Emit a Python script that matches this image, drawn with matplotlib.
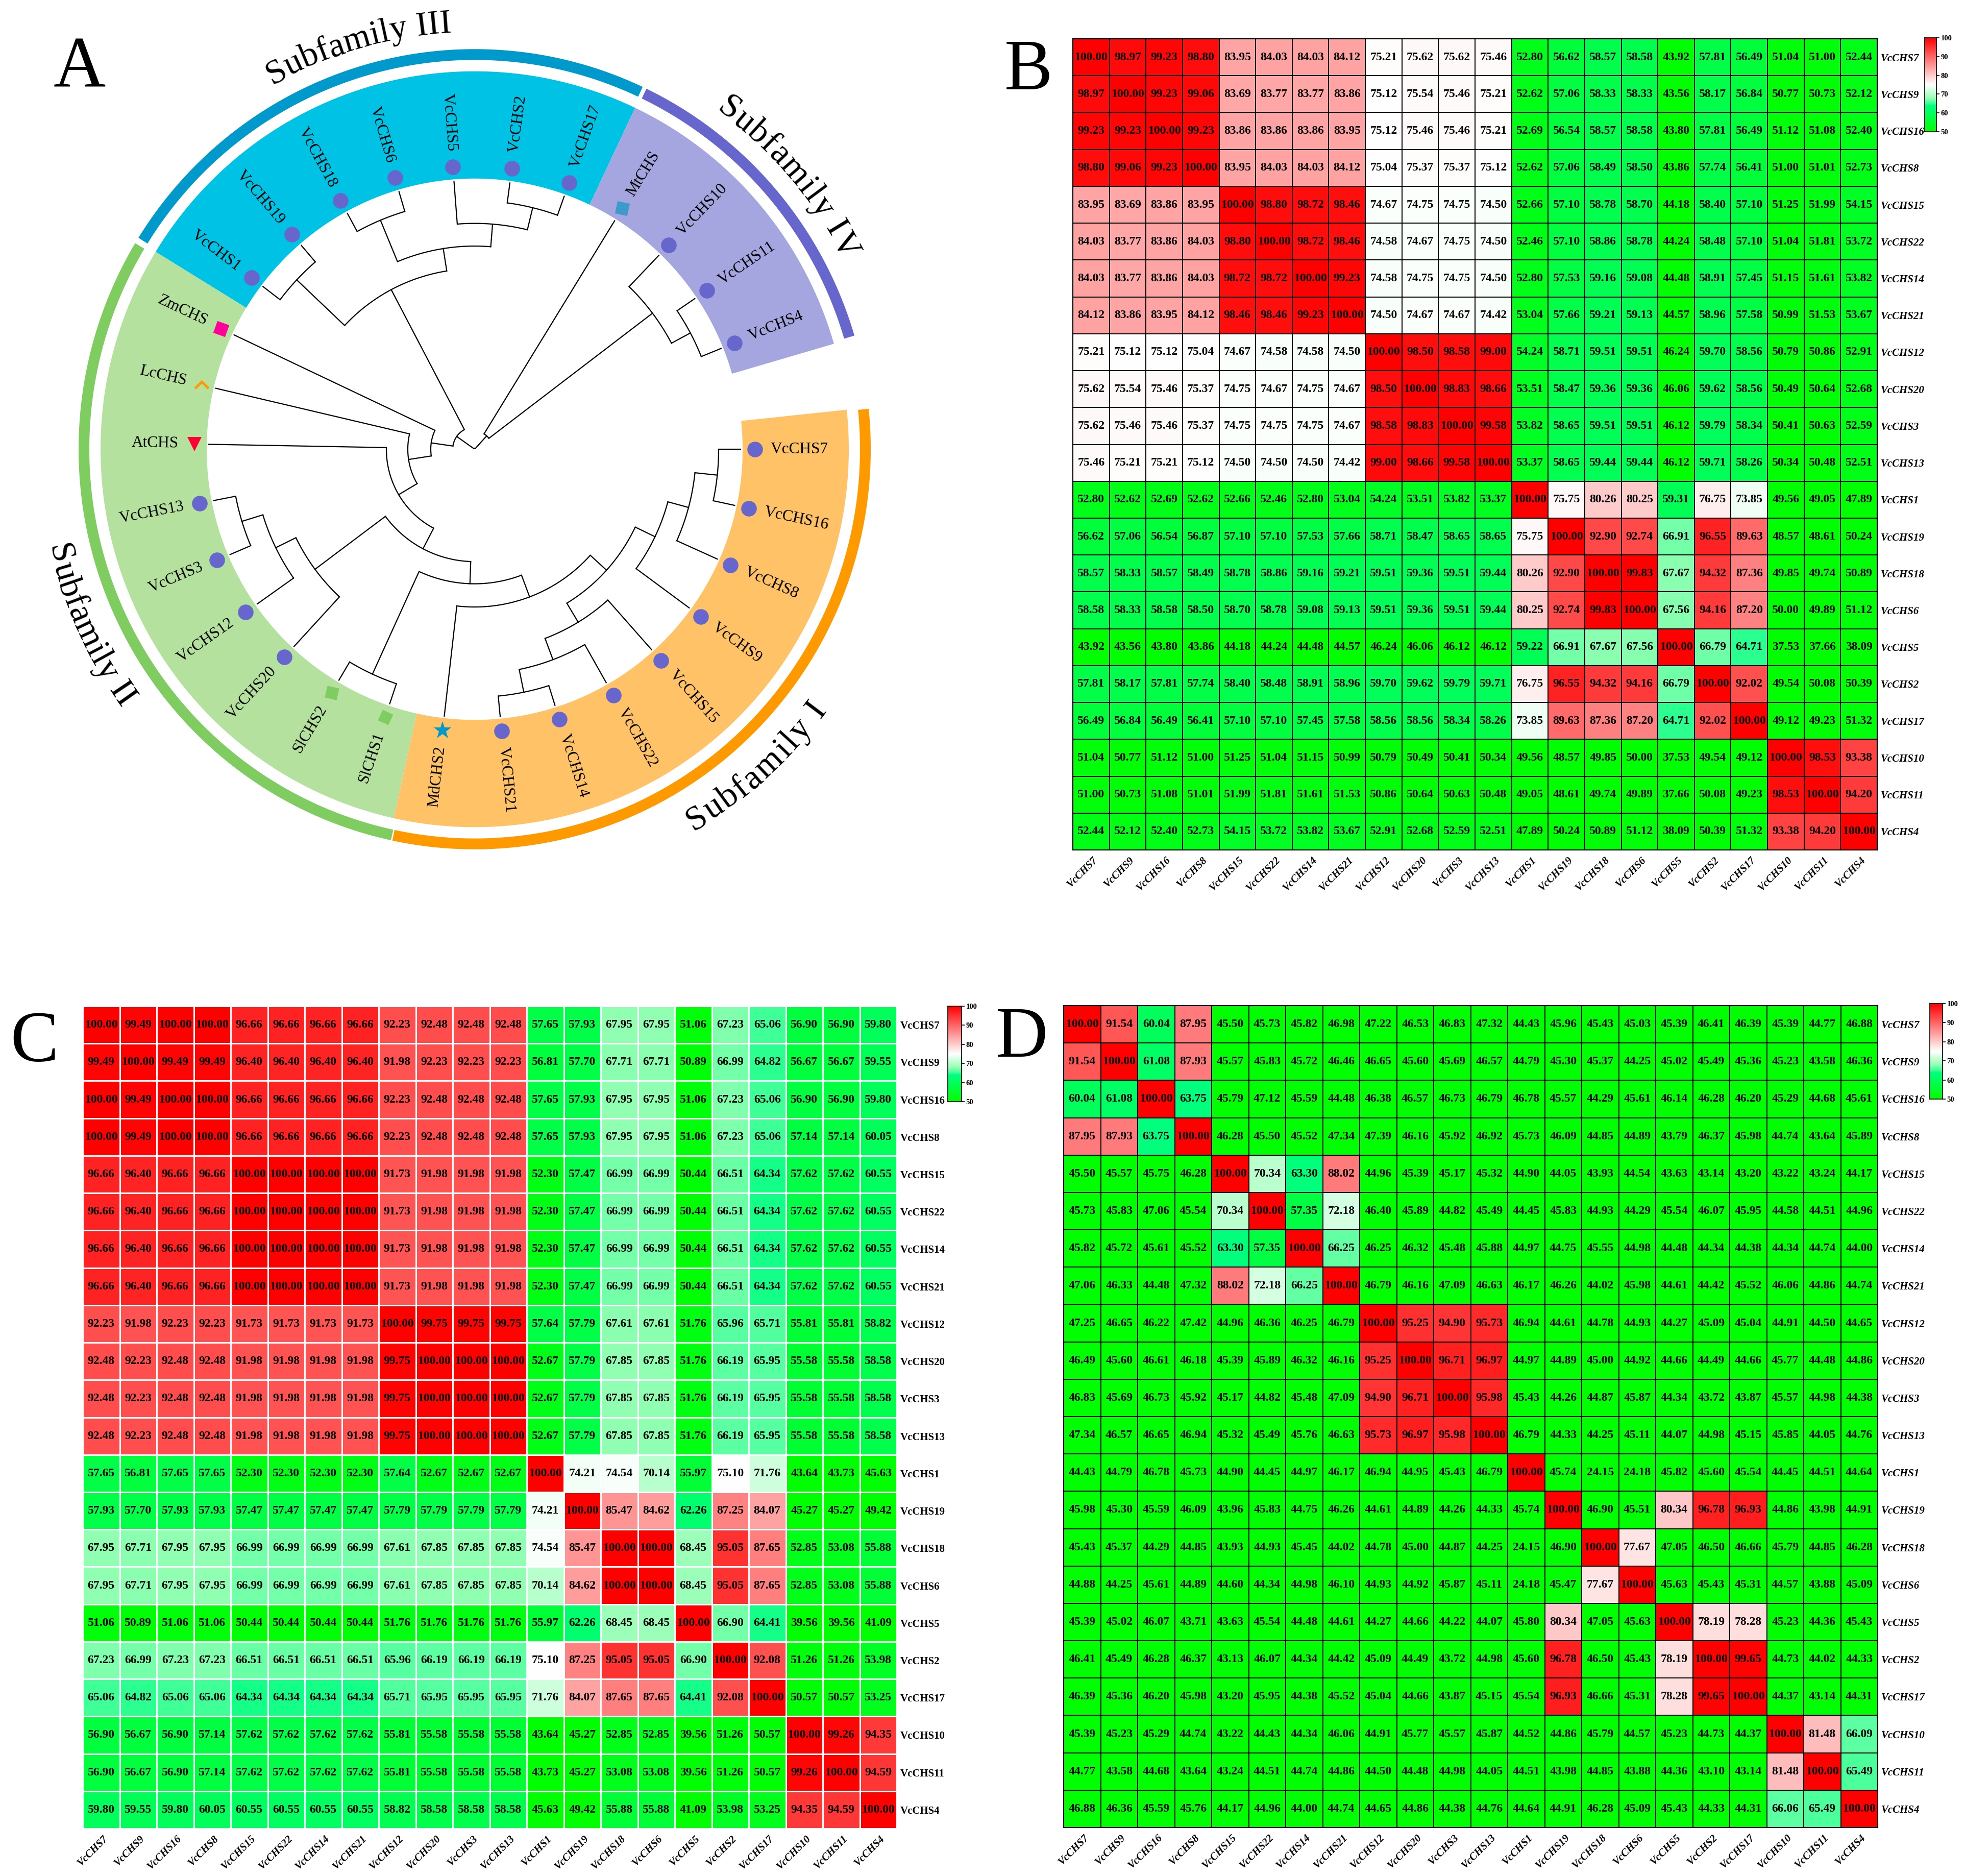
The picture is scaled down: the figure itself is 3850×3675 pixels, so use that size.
import numpy as np
import matplotlib
matplotlib.use("Agg")
import matplotlib.pyplot as plt
from matplotlib.colors import LinearSegmentedColormap
from matplotlib.font_manager import FontProperties
from matplotlib.patches import Polygon
from matplotlib.path import Path
from matplotlib.textpath import text_to_path

plt.rcParams["font.family"] = ["Liberation Serif", "DejaVu Serif"]

W, H = 3850, 3675

GENES = ["VcCHS7", "VcCHS9", "VcCHS16", "VcCHS8", "VcCHS15", "VcCHS22", "VcCHS14", "VcCHS21",
         "VcCHS12", "VcCHS20", "VcCHS3", "VcCHS13", "VcCHS1", "VcCHS19", "VcCHS18", "VcCHS6",
         "VcCHS5", "VcCHS2", "VcCHS17", "VcCHS10", "VcCHS11", "VcCHS4"]

B_VALUES = [
    [100.00, 98.97, 99.23, 98.80, 83.95, 84.03, 84.03, 84.12, 75.21, 75.62, 75.62, 75.46, 52.80, 56.62, 58.57, 58.58, 43.92, 57.81, 56.49, 51.04, 51.00, 52.44],
    [98.97, 100.00, 99.23, 99.06, 83.69, 83.77, 83.77, 83.86, 75.12, 75.54, 75.46, 75.21, 52.62, 57.06, 58.33, 58.33, 43.56, 58.17, 56.84, 50.77, 50.73, 52.12],
    [99.23, 99.23, 100.00, 99.23, 83.86, 83.86, 83.86, 83.95, 75.12, 75.46, 75.46, 75.21, 52.69, 56.54, 58.57, 58.58, 43.80, 57.81, 56.49, 51.12, 51.08, 52.40],
    [98.80, 99.06, 99.23, 100.00, 83.95, 84.03, 84.03, 84.12, 75.04, 75.37, 75.37, 75.12, 52.62, 57.06, 58.49, 58.50, 43.86, 57.74, 56.41, 51.00, 51.01, 52.73],
    [83.95, 83.69, 83.86, 83.95, 100.00, 98.80, 98.72, 98.46, 74.67, 74.75, 74.75, 74.50, 52.66, 57.10, 58.78, 58.70, 44.18, 58.40, 57.10, 51.25, 51.99, 54.15],
    [84.03, 83.77, 83.86, 84.03, 98.80, 100.00, 98.72, 98.46, 74.58, 74.67, 74.75, 74.50, 52.46, 57.10, 58.86, 58.78, 44.24, 58.48, 57.10, 51.04, 51.81, 53.72],
    [84.03, 83.77, 83.86, 84.03, 98.72, 98.72, 100.00, 99.23, 74.58, 74.75, 74.75, 74.50, 52.80, 57.53, 59.16, 59.08, 44.48, 58.91, 57.45, 51.15, 51.61, 53.82],
    [84.12, 83.86, 83.95, 84.12, 98.46, 98.46, 99.23, 100.00, 74.50, 74.67, 74.67, 74.42, 53.04, 57.66, 59.21, 59.13, 44.57, 58.96, 57.58, 50.99, 51.53, 53.67],
    [75.21, 75.12, 75.12, 75.04, 74.67, 74.58, 74.58, 74.50, 100.00, 98.50, 98.58, 99.00, 54.24, 58.71, 59.51, 59.51, 46.24, 59.70, 58.56, 50.79, 50.86, 52.91],
    [75.62, 75.54, 75.46, 75.37, 74.75, 74.67, 74.75, 74.67, 98.50, 100.00, 98.83, 98.66, 53.51, 58.47, 59.36, 59.36, 46.06, 59.62, 58.56, 50.49, 50.64, 52.68],
    [75.62, 75.46, 75.46, 75.37, 74.75, 74.75, 74.75, 74.67, 98.58, 98.83, 100.00, 99.58, 53.82, 58.65, 59.51, 59.51, 46.12, 59.79, 58.34, 50.41, 50.63, 52.59],
    [75.46, 75.21, 75.21, 75.12, 74.50, 74.50, 74.50, 74.42, 99.00, 98.66, 99.58, 100.00, 53.37, 58.65, 59.44, 59.44, 46.12, 59.71, 58.26, 50.34, 50.48, 52.51],
    [52.80, 52.62, 52.69, 52.62, 52.66, 52.46, 52.80, 53.04, 54.24, 53.51, 53.82, 53.37, 100.00, 75.75, 80.26, 80.25, 59.31, 76.75, 73.85, 49.56, 49.05, 47.89],
    [56.62, 57.06, 56.54, 56.87, 57.10, 57.10, 57.53, 57.66, 58.71, 58.47, 58.65, 58.65, 75.75, 100.00, 92.90, 92.74, 66.91, 96.55, 89.63, 48.57, 48.61, 50.24],
    [58.57, 58.33, 58.57, 58.49, 58.78, 58.86, 59.16, 59.21, 59.51, 59.36, 59.51, 59.44, 80.26, 92.90, 100.00, 99.83, 67.67, 94.32, 87.36, 49.85, 49.74, 50.89],
    [58.58, 58.33, 58.58, 58.50, 58.70, 58.78, 59.08, 59.13, 59.51, 59.36, 59.51, 59.44, 80.25, 92.74, 99.83, 100.00, 67.56, 94.16, 87.20, 50.00, 49.89, 51.12],
    [43.92, 43.56, 43.80, 43.86, 44.18, 44.24, 44.48, 44.57, 46.24, 46.06, 46.12, 46.12, 59.22, 66.91, 67.67, 67.56, 100.00, 66.79, 64.71, 37.53, 37.66, 38.09],
    [57.81, 58.17, 57.81, 57.74, 58.40, 58.48, 58.91, 58.96, 59.70, 59.62, 59.79, 59.71, 76.75, 96.55, 94.32, 94.16, 66.79, 100.00, 92.02, 49.54, 50.08, 50.39],
    [56.49, 56.84, 56.49, 56.41, 57.10, 57.10, 57.45, 57.58, 58.56, 58.56, 58.34, 58.26, 73.85, 89.63, 87.36, 87.20, 64.71, 92.02, 100.00, 49.12, 49.23, 51.32],
    [51.04, 50.77, 51.12, 51.00, 51.25, 51.04, 51.15, 50.99, 50.79, 50.49, 50.41, 50.34, 49.56, 48.57, 49.85, 50.00, 37.53, 49.54, 49.12, 100.00, 98.53, 93.38],
    [51.00, 50.73, 51.08, 51.01, 51.99, 51.81, 51.61, 51.53, 50.86, 50.64, 50.63, 50.48, 49.05, 48.61, 49.74, 49.89, 37.66, 50.08, 49.23, 98.53, 100.00, 94.20],
    [52.44, 52.12, 52.40, 52.73, 54.15, 53.72, 53.82, 53.67, 52.91, 52.68, 52.59, 52.51, 47.89, 50.24, 50.89, 51.12, 38.09, 50.39, 51.32, 93.38, 94.20, 100.00],
]

C_VALUES = [
    [100.00, 99.49, 100.00, 100.00, 96.66, 96.66, 96.66, 96.66, 92.23, 92.48, 92.48, 92.48, 57.65, 57.93, 67.95, 67.95, 51.06, 67.23, 65.06, 56.90, 56.90, 59.80],
    [99.49, 100.00, 99.49, 99.49, 96.40, 96.40, 96.40, 96.40, 91.98, 92.23, 92.23, 92.23, 56.81, 57.70, 67.71, 67.71, 50.89, 66.99, 64.82, 56.67, 56.67, 59.55],
    [100.00, 99.49, 100.00, 100.00, 96.66, 96.66, 96.66, 96.66, 92.23, 92.48, 92.48, 92.48, 57.65, 57.93, 67.95, 67.95, 51.06, 67.23, 65.06, 56.90, 56.90, 59.80],
    [100.00, 99.49, 100.00, 100.00, 96.66, 96.66, 96.66, 96.66, 92.23, 92.48, 92.48, 92.48, 57.65, 57.93, 67.95, 67.95, 51.06, 67.23, 65.06, 57.14, 57.14, 60.05],
    [96.66, 96.40, 96.66, 96.66, 100.00, 100.00, 100.00, 100.00, 91.73, 91.98, 91.98, 91.98, 52.30, 57.47, 66.99, 66.99, 50.44, 66.51, 64.34, 57.62, 57.62, 60.55],
    [96.66, 96.40, 96.66, 96.66, 100.00, 100.00, 100.00, 100.00, 91.73, 91.98, 91.98, 91.98, 52.30, 57.47, 66.99, 66.99, 50.44, 66.51, 64.34, 57.62, 57.62, 60.55],
    [96.66, 96.40, 96.66, 96.66, 100.00, 100.00, 100.00, 100.00, 91.73, 91.98, 91.98, 91.98, 52.30, 57.47, 66.99, 66.99, 50.44, 66.51, 64.34, 57.62, 57.62, 60.55],
    [96.66, 96.40, 96.66, 96.66, 100.00, 100.00, 100.00, 100.00, 91.73, 91.98, 91.98, 91.98, 52.30, 57.47, 66.99, 66.99, 50.44, 66.51, 64.34, 57.62, 57.62, 60.55],
    [92.23, 91.98, 92.23, 92.23, 91.73, 91.73, 91.73, 91.73, 100.00, 99.75, 99.75, 99.75, 57.64, 57.79, 67.61, 67.61, 51.76, 65.96, 65.71, 55.81, 55.81, 58.82],
    [92.48, 92.23, 92.48, 92.48, 91.98, 91.98, 91.98, 91.98, 99.75, 100.00, 100.00, 100.00, 52.67, 57.79, 67.85, 67.85, 51.76, 66.19, 65.95, 55.58, 55.58, 58.58],
    [92.48, 92.23, 92.48, 92.48, 91.98, 91.98, 91.98, 91.98, 99.75, 100.00, 100.00, 100.00, 52.67, 57.79, 67.85, 67.85, 51.76, 66.19, 65.95, 55.58, 55.58, 58.58],
    [92.48, 92.23, 92.48, 92.48, 91.98, 91.98, 91.98, 91.98, 99.75, 100.00, 100.00, 100.00, 52.67, 57.79, 67.85, 67.85, 51.76, 66.19, 65.95, 55.58, 55.58, 58.58],
    [57.65, 56.81, 57.65, 57.65, 52.30, 52.30, 52.30, 52.30, 57.64, 52.67, 52.67, 52.67, 100.00, 74.21, 74.54, 70.14, 55.97, 75.10, 71.76, 43.64, 43.73, 45.63],
    [57.93, 57.70, 57.93, 57.93, 57.47, 57.47, 57.47, 57.47, 57.79, 57.79, 57.79, 57.79, 74.21, 100.00, 85.47, 84.62, 62.26, 87.25, 84.07, 45.27, 45.27, 49.42],
    [67.95, 67.71, 67.95, 67.95, 66.99, 66.99, 66.99, 66.99, 67.61, 67.85, 67.85, 67.85, 74.54, 85.47, 100.00, 100.00, 68.45, 95.05, 87.65, 52.85, 53.08, 55.88],
    [67.95, 67.71, 67.95, 67.95, 66.99, 66.99, 66.99, 66.99, 67.61, 67.85, 67.85, 67.85, 70.14, 84.62, 100.00, 100.00, 68.45, 95.05, 87.65, 52.85, 53.08, 55.88],
    [51.06, 50.89, 51.06, 51.06, 50.44, 50.44, 50.44, 50.44, 51.76, 51.76, 51.76, 51.76, 55.97, 62.26, 68.45, 68.45, 100.00, 66.90, 64.41, 39.56, 39.56, 41.09],
    [67.23, 66.99, 67.23, 67.23, 66.51, 66.51, 66.51, 66.51, 65.96, 66.19, 66.19, 66.19, 75.10, 87.25, 95.05, 95.05, 66.90, 100.00, 92.08, 51.26, 51.26, 53.98],
    [65.06, 64.82, 65.06, 65.06, 64.34, 64.34, 64.34, 64.34, 65.71, 65.95, 65.95, 65.95, 71.76, 84.07, 87.65, 87.65, 64.41, 92.08, 100.00, 50.57, 50.57, 53.25],
    [56.90, 56.67, 56.90, 57.14, 57.62, 57.62, 57.62, 57.62, 55.81, 55.58, 55.58, 55.58, 43.64, 45.27, 52.85, 52.85, 39.56, 51.26, 50.57, 100.00, 99.26, 94.35],
    [56.90, 56.67, 56.90, 57.14, 57.62, 57.62, 57.62, 57.62, 55.81, 55.58, 55.58, 55.58, 43.73, 45.27, 53.08, 53.08, 39.56, 51.26, 50.57, 99.26, 100.00, 94.59],
    [59.80, 59.55, 59.80, 60.05, 60.55, 60.55, 60.55, 60.55, 58.82, 58.58, 58.58, 58.58, 45.63, 49.42, 55.88, 55.88, 41.09, 53.98, 53.25, 94.35, 94.59, 100.00],
]

D_VALUES = [
    [100.00, 91.54, 60.04, 87.95, 45.50, 45.73, 45.82, 46.98, 47.22, 46.53, 46.83, 47.32, 44.43, 45.96, 45.43, 45.03, 45.39, 46.41, 46.39, 45.39, 44.77, 46.88],
    [91.54, 100.00, 61.08, 87.93, 45.57, 45.83, 45.72, 46.46, 46.65, 45.60, 45.69, 46.57, 44.79, 45.30, 45.37, 44.25, 45.02, 45.49, 45.36, 45.23, 43.58, 46.36],
    [60.04, 61.08, 100.00, 63.75, 45.79, 47.12, 45.59, 44.48, 46.38, 46.57, 46.73, 46.79, 46.78, 45.57, 44.29, 45.61, 46.14, 46.28, 46.20, 45.29, 44.68, 45.61],
    [87.95, 87.93, 63.75, 100.00, 46.28, 45.50, 45.52, 47.34, 47.39, 46.16, 45.92, 46.92, 45.73, 46.09, 44.85, 44.89, 43.79, 46.37, 45.98, 44.74, 43.64, 45.89],
    [45.50, 45.57, 45.75, 46.28, 100.00, 70.34, 63.30, 88.02, 44.96, 45.39, 45.17, 45.32, 44.90, 44.05, 43.93, 44.54, 43.63, 43.14, 43.20, 43.22, 43.24, 44.17],
    [45.73, 45.83, 47.06, 45.54, 70.34, 100.00, 57.35, 72.18, 46.40, 45.89, 44.82, 45.49, 44.45, 45.83, 44.93, 44.29, 45.54, 46.07, 45.95, 44.58, 44.51, 44.96],
    [45.82, 45.72, 45.61, 45.52, 63.30, 57.35, 100.00, 66.25, 46.25, 46.32, 45.48, 45.88, 44.97, 44.75, 45.55, 44.98, 44.48, 44.34, 44.38, 44.34, 44.74, 44.00],
    [47.06, 46.33, 44.48, 47.32, 88.02, 72.18, 66.25, 100.00, 46.79, 46.16, 47.09, 46.63, 46.17, 46.26, 44.02, 45.98, 44.61, 44.42, 45.52, 46.06, 44.86, 44.74],
    [47.25, 46.65, 46.22, 47.42, 44.96, 46.36, 46.25, 46.79, 100.00, 95.25, 94.90, 95.73, 46.94, 44.61, 44.78, 44.93, 44.27, 45.09, 45.04, 44.91, 44.50, 44.65],
    [46.49, 45.60, 46.61, 46.18, 45.39, 45.89, 46.32, 46.16, 95.25, 100.00, 96.71, 96.97, 44.97, 44.89, 45.00, 44.92, 44.66, 44.49, 44.66, 45.77, 44.48, 44.86],
    [46.83, 45.69, 46.73, 45.92, 45.17, 44.82, 45.48, 47.09, 94.90, 96.71, 100.00, 95.98, 45.43, 44.26, 44.87, 45.87, 44.34, 43.72, 43.87, 45.57, 44.98, 44.38],
    [47.34, 46.57, 46.65, 46.94, 45.32, 45.49, 45.76, 46.63, 95.73, 96.97, 95.98, 100.00, 46.79, 44.33, 44.25, 45.11, 44.07, 44.98, 45.15, 45.85, 44.05, 44.76],
    [44.43, 44.79, 46.78, 45.73, 44.90, 44.45, 44.97, 46.17, 46.94, 44.95, 45.43, 46.79, 100.00, 45.74, 24.15, 24.18, 45.82, 45.60, 45.54, 44.45, 44.51, 44.64],
    [45.98, 45.30, 45.59, 46.09, 43.96, 45.83, 44.75, 46.26, 44.61, 44.89, 44.26, 44.33, 45.74, 100.00, 46.90, 45.51, 80.34, 96.78, 96.93, 44.86, 43.98, 44.91],
    [45.43, 45.37, 44.29, 44.85, 43.93, 44.93, 45.45, 44.02, 44.78, 45.00, 44.87, 44.25, 24.15, 46.90, 100.00, 77.67, 47.05, 46.50, 46.66, 45.79, 44.85, 46.28],
    [44.88, 44.25, 45.61, 44.89, 44.60, 44.34, 44.98, 46.10, 44.93, 44.92, 45.87, 45.11, 24.18, 45.47, 77.67, 100.00, 45.63, 45.43, 45.31, 44.57, 43.88, 45.09],
    [45.39, 45.02, 46.07, 43.71, 43.63, 45.54, 44.48, 44.61, 44.27, 44.66, 44.22, 44.07, 45.80, 80.34, 47.05, 45.63, 100.00, 78.19, 78.28, 45.23, 44.36, 45.43],
    [46.41, 45.49, 46.28, 46.37, 43.13, 46.07, 44.34, 44.42, 45.09, 44.49, 43.72, 44.98, 45.60, 96.78, 46.50, 45.43, 78.19, 100.00, 99.65, 44.73, 44.02, 44.33],
    [46.39, 45.36, 46.20, 45.98, 43.20, 45.95, 44.38, 45.52, 45.04, 44.66, 43.87, 45.15, 45.54, 96.93, 46.66, 45.31, 78.28, 99.65, 100.00, 44.37, 43.14, 44.31],
    [45.39, 45.23, 45.29, 44.74, 43.22, 44.43, 44.34, 46.06, 44.91, 45.77, 45.57, 45.87, 44.52, 44.86, 45.79, 44.57, 45.23, 44.73, 44.37, 100.00, 81.48, 66.09],
    [44.77, 43.58, 44.68, 43.64, 43.24, 44.51, 44.74, 44.86, 44.50, 44.48, 44.98, 44.05, 44.51, 43.98, 44.85, 43.88, 44.36, 43.10, 43.14, 81.48, 100.00, 65.49],
    [46.88, 46.36, 45.59, 45.76, 44.17, 44.96, 44.00, 44.74, 44.65, 44.86, 44.38, 44.76, 44.64, 44.91, 46.28, 45.09, 45.43, 44.33, 44.31, 66.06, 65.49, 100.00],
]

# panel A: tips of the tree, clockwise from the right hand side
LEAVES = ["VcCHS7", "VcCHS16", "VcCHS8", "VcCHS9", "VcCHS15", "VcCHS22", "VcCHS14", "VcCHS21",
          "MdCHS2", "SlCHS1", "SlCHS2", "VcCHS20", "VcCHS12", "VcCHS3", "VcCHS13", "AtCHS",
          "LcCHS", "ZmCHS", "VcCHS1", "VcCHS19", "VcCHS18", "VcCHS6", "VcCHS5", "VcCHS2",
          "VcCHS17", "MtCHS", "VcCHS10", "VcCHS11", "VcCHS4"]
LEAF_STEP = -12.07
LEAF_R = 521

# nested clades: (radius of the joining arc, child, child)
CLADE_ORANGE = (349,
                (392, (434, (478, "VcCHS7", "VcCHS16"), "VcCHS8"), "VcCHS9"),
                (392, "VcCHS15", (436, "VcCHS22", (481, "VcCHS14", "VcCHS21"))))
CLADE_SL = (480, "SlCHS1", "SlCHS2")
CLADE_GREEN = (390, "VcCHS20", (434, "VcCHS12", (477, "VcCHS3", "VcCHS13")))
CLADE_CYAN = (350,
              (479, "VcCHS1", "VcCHS19"),
              (394, (481, "VcCHS18", "VcCHS6"),
               (438, "VcCHS5", (482, "VcCHS2", "VcCHS17"))))
CLADE_PURPLE = (35, "MtCHS", (437, "VcCHS10", (479, "VcCHS11", "VcCHS4")))
TREE = (2,
        (43, (86, (131, (173, (218, (261, (306, CLADE_ORANGE, "MdCHS2"), CLADE_SL), CLADE_GREEN),
                        "AtCHS"), "LcCHS"), "ZmCHS"), CLADE_CYAN),
        CLADE_PURPLE)

# band name, first angle, last angle, band colour, ring colour, ring first, ring last
BAND_NAMES = ["I", "II", "III", "IV"]
BAND_START = [6.0, -102.5, 148.5, 64.6]
BAND_END = [-102.5, -211.5, 64.6, 16.2]
BAND_COLORS = ["#FFC266", "#B5E19F", "#00C2E4", "#A5A5E0"]
RING_START = [5.8, -102.2, 148.1, 64.3]
RING_END = [-102.0, -211.0, 64.9, 16.5]
RING_COLORS = ["#FF9900", "#7FCC60", "#0099CC", "#6666CC"]

# subfamily captions: text, angle of first and last letter, baseline radius
CAPTIONS = ["Subfamily I", "Subfamily II", "Subfamily III", "Subfamily IV"]
CAPTION_START = [-58.7, 194.0, 118.0, 53.0]
CAPTION_END = [-37.0, 215.3, 94.0, 28.6]
CAPTION_R = [856, 856, 810, 810]

CX, CY, Y_STRETCH = 930, 880, 1.01
SPECIAL = {"ZmCHS": dict(marker=(4, 0, 25), color="#FF0099", ms=25),
           "AtCHS": dict(marker="v", color="#FF0033", ms=20),
           "SlCHS1": dict(marker=(4, 0, 20), color="#7FCC60", ms=23),
           "SlCHS2": dict(marker=(4, 0, 32), color="#7FCC60", ms=24),
           "MdCHS2": dict(marker="*", color="#0099CC", ms=26),
           "MtCHS": dict(marker=(4, 0, 33), color="#3F9ACC", ms=25)}

# the green side is not linear, it gets pale quickly above 64
CMAP_STOPS = [(0.0, "#00FF00"), (0.28, "#00FF80"), (0.30, "#3CFF96"), (0.36, "#96FFB4"),
              (0.5, "#FFFFFF"), (1.0, "#FF0000")]
cmap = LinearSegmentedColormap.from_list("identity", CMAP_STOPS)


def xy(r, angle):
    a = np.radians(angle)
    return CX + r * np.cos(a), CY - Y_STRETCH * r * np.sin(a)


def ax_px(fig, left, top, right, bottom):
    return fig.add_axes([left / W, 1 - bottom / H, (right - left) / W, (bottom - top) / H])


def ring(ax, r0, r1, a0, a1, color):
    t = np.linspace(a0, a1, 200)
    xo, yo = xy(r1, t)
    xi, yi = xy(r0, t[::-1])
    pts = np.column_stack([np.r_[xo, xi], np.r_[yo, yi]])
    ax.add_patch(Polygon(pts, closed=True, fc=color, ec="none"))


def draw_node(ax, node, leaf_angle):
    """draws a clade, returns the angle of its stem"""
    if isinstance(node, str):
        return leaf_angle[node], LEAF_R
    r, left, right = node
    a0, r0 = draw_node(ax, left, leaf_angle)
    a1, r1 = draw_node(ax, right, leaf_angle)
    t = np.linspace(a0, a1, 60)
    ax.plot(*xy(r, t), color="black", lw=1.6, solid_capstyle="round")
    ax.plot(*xy(np.array([r, r0]), a0), color="black", lw=1.6)
    ax.plot(*xy(np.array([r, r1]), a1), color="black", lw=1.6)
    return (a0 + a1) / 2, r


def curved_caption(ax, text, a0, a1, r, size):
    fp = FontProperties(family="Liberation Serif", size=size)
    widths = []
    for ch in text:
        if ch == " ":
            widths.append(0.25 * size)
        else:
            widths.append(text_to_path.get_text_width_height_descent(ch, fp, False)[0])
    widths = np.array(widths) * 100 / 72
    arc = np.radians(abs(a1 - a0)) * r
    gap = (arc - (widths.sum() - widths[0] / 2 - widths[-1] / 2)) / (len(text) - 1)
    pos = 0
    outward = a1 < a0
    for i, ch in enumerate(text):
        if i > 0:
            pos += widths[i - 1] / 2 + gap + widths[i] / 2
        ang = a0 + np.sign(a1 - a0) * np.degrees(pos / r)
        rot = ang - 90 if outward else ang + 90
        x, y = xy(r, ang)
        if ch != " ":
            ax.text(x, y, ch, fontproperties=fp, ha="center", va="baseline",
                    rotation=rot, rotation_mode="anchor", color="black")


def draw_tree_panel(fig):
    ax = fig.add_axes([0, 0, 1, 1])
    ax.set_xlim(0, W)
    ax.set_ylim(H, 0)
    ax.axis("off")
    for a0, a1, c in zip(BAND_START, BAND_END, BAND_COLORS):
        ring(ax, 525, 733, a0, a1, c)
    for a0, a1, c in zip(RING_START, RING_END, RING_COLORS):
        ring(ax, 755, 776, a0, a1, c)

    leaf_angle = {name: LEAF_STEP * i for i, name in enumerate(LEAVES)}
    draw_node(ax, TREE, leaf_angle)

    for name, ang in leaf_angle.items():
        x, y = xy(549, ang)
        if name in SPECIAL:
            st = SPECIAL[name]
            ax.plot([x], [y], marker=st["marker"], color=st["color"], ms=st["ms"], mew=0, ls="none")
        elif name == "LcCHS":
            chevron = Path([(-1, -0.5), (0, 0.5), (1, -0.5)], [Path.MOVETO, Path.LINETO, Path.LINETO])
            ax.plot([x], [y], marker=chevron, mfc="none", mec="#FF9900", ms=19, mew=3.6, ls="none")
        else:
            ax.plot([x], [y], marker="o", color="#6666CC", ms=22, mew=0, ls="none")
        # text is flipped on the left half so it stays readable
        tx, ty = xy(580, ang)
        cos = np.cos(np.radians(ang))
        rot = ang if cos > 0 else ang + 180
        ax.text(tx, ty, name, fontsize=22.5, ha="left" if cos > 0 else "right", va="center",
                rotation=rot, rotation_mode="anchor", color="black")

    for text, a0, a1, r in zip(CAPTIONS, CAPTION_START, CAPTION_END, CAPTION_R):
        curved_caption(ax, text, a0, a1, r, 49)
    return ax


def heatmap(fig, values, rect, cb_rect, grid, row_style, text_size=17):
    ax = ax_px(fig, *rect)
    n = len(GENES)
    ax.pcolormesh(np.arange(n + 1), np.arange(n + 1), np.array(values), cmap=cmap, vmin=50, vmax=100,
                  edgecolors=grid, linewidth=1.2 if grid == "black" else 2)
    ax.set_xlim(0, n)
    ax.set_ylim(n, 0)
    for i, row in enumerate(values):
        for j, v in enumerate(row):
            ax.text(j + 0.5, i + 0.5, f"{v:.2f}", ha="center", va="center",
                    fontsize=text_size, fontweight="bold", color="black")
    ax.set_xticks(np.arange(n) + 0.54)
    ax.set_xticklabels(GENES, rotation=45, ha="right", va="top", rotation_mode="anchor",
                       fontsize=15, fontweight="bold", fontstyle="italic")
    ax.set_yticks(np.arange(n) + 0.5)
    ax.set_yticklabels(GENES, fontsize=15, fontweight="bold", fontstyle=row_style)
    ax.yaxis.tick_right()
    ax.tick_params(axis="x", length=0, pad=7)
    ax.tick_params(axis="y", length=0, pad=5)
    for s in ax.spines.values():
        s.set_visible(grid == "black")
        s.set_linewidth(1.5)

    cax = ax_px(fig, *cb_rect)
    grad = np.linspace(50, 100, 256).reshape(-1, 1)
    cax.imshow(grad, cmap=cmap, vmin=50, vmax=100, origin="lower", aspect="auto", extent=[0, 1, 50, 100])
    cax.set_xticks([])
    cax.set_yticks([50, 60, 70, 80, 90, 100])
    cax.yaxis.tick_right()
    cax.tick_params(length=4, width=1.2, pad=2)
    for lab in cax.get_yticklabels():
        lab.set_fontsize(10.5)
        lab.set_fontweight("bold")
    for s in cax.spines.values():
        s.set_linewidth(1.2)


fig = plt.figure(figsize=(W / 100, H / 100), dpi=100)
tree_ax = draw_tree_panel(fig)

heatmap(fig, B_VALUES, (2102, 76, 3678, 1665), (3771, 74, 3794, 258), "black", "italic")
heatmap(fig, C_VALUES, (162, 1971, 1757, 3582), (1857, 1971, 1884, 2158), "white", "normal")
heatmap(fig, D_VALUES, (2084, 1970, 3679, 3580), (3781, 1966, 3806, 2153), "black", "italic")

for letter, x, y in [("A", 156, 170), ("B", 2015, 175), ("C", 67, 2079), ("D", 2002, 2070)]:
    tree_ax.text(x, y, letter, fontsize=102, ha="center", va="baseline", color="black")

fig.savefig("out.png", dpi=100)
plt.close(fig)
